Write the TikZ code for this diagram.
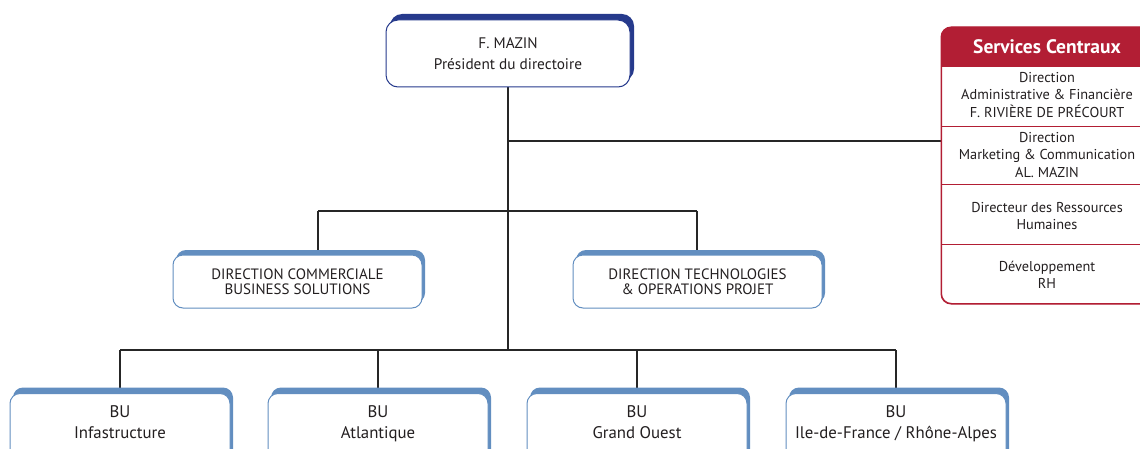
\documentclass[tikz,border=0pt]{standalone}
\usepackage{fontspec}
\setmainfont{PT Sans}
\usetikzlibrary{shadows,backgrounds}
\definecolor{navy}{RGB}{38,58,140}
\definecolor{steel}{RGB}{98,142,192}
\definecolor{scred}{RGB}{178,30,52}
\definecolor{txt}{RGB}{35,31,32}
\begin{document}
\begin{tikzpicture}[x=1pt,y=-1pt,
  conn/.style={draw=black!85, line width=1.2pt},
  box/.style={draw, fill=white, align=center, text=txt, line width=1pt},
  topbox/.style={box, draw=navy, minimum width=244pt, minimum height=67pt, rounded corners=12pt,
    general shadow={fill=navy, shadow xshift=4pt, shadow yshift=6pt},
    font=\fontsize{15.3}{21}\selectfont},
  midbox/.style={box, draw=steel, minimum width=249pt, minimum height=53pt, rounded corners=10pt,
    general shadow={fill=steel, shadow xshift=3pt, shadow yshift=5pt},
    font=\fontsize{15}{15}\selectfont},
  bubox/.style={box, draw=steel, minimum width=220pt, rounded corners=10pt, anchor=north,
    inner ysep=12pt, text depth=50pt,
    general shadow={fill=steel, shadow xshift=3pt, shadow yshift=6pt},
    font=\fontsize{16.8}{21}\selectfont},
  sctext/.style={align=center, text=txt, font=\fontsize{14.3}{17.5}\selectfont},
]
\useasboundingbox (0,0) rectangle (1140,449);
\clip (0,0) rectangle (1140,449);

% nodes
\node[topbox] (top) at (508,53.5) {F. MAZIN\\Président du directoire};
\node[midbox] (dcb) at (297.5,281.5) {DIRECTION COMMERCIALE\\BUSINESS SOLUTIONS};
\node[midbox] (dto) at (697.5,281.5) {DIRECTION TECHNOLOGIES\\\& OPERATIONS PROJET};
\node[bubox] (bu1) at (120,393) {BU\\Infastructure};
\node[bubox] (bu2) at (378,393) {BU\\Atlantique};
\node[bubox] (bu3) at (637,393) {BU\\Grand Ouest};
\node[bubox] (bu4) at (896,393) {BU\\Ile-de-France / Rhône-Alpes};

% services centraux
\node[draw=scred, fill=white, line width=1pt, rounded corners=10pt, minimum width=211pt,
  minimum height=276pt, anchor=north west, inner sep=0pt] (sc) at (941,27) {};
\begin{scope}
  \clip[rounded corners=10pt] (sc.north west) rectangle (sc.south east);
  \fill[scred] (sc.north west) rectangle (sc.east |- 0,67);
\end{scope}
\draw[scred, line width=1pt, rounded corners=10pt] (sc.north west) rectangle (sc.south east);
\node[text=white, font=\bfseries\fontsize{19.5}{22}\selectfont] (sch) at (1047,47) {Services Centraux};
\draw[scred, line width=1pt] (sc.west |- 0,127) -- (sc.east |- 0,127);
\draw[scred, line width=1pt] (sc.west |- 0,185) -- (sc.east |- 0,185);
\draw[scred, line width=1pt] (sc.west |- 0,244) -- (sc.east |- 0,244);
\node[sctext] (sc1) at (1047,95) {Direction\\Administrative \& Financière\\F. RIVIÈRE DE PRÉCOURT};
\node[sctext] (sc2) at (1047,155) {Direction\\Marketing \& Communication\\AL. MAZIN};
\node[sctext] (sc3) at (1047,216) {Directeur des Ressources\\Humaines};
\node[sctext] (sc4) at (1047,275) {Développement\\RH};

% connectors
\coordinate (j1) at (508,141);
\coordinate (m0) at (508,211);
\coordinate (m1) at (318,211);
\coordinate (m2) at (697,211);
\coordinate (b0) at (508,350);
\begin{scope}[on background layer]
  \draw[conn] (top.south) -- (b0);
  \draw[conn] (j1) -- (j1 -| sc.west);
  \draw[conn] (m1) -- (m2);
  \draw[conn] (m1) -- (m1 |- dcb.north);
  \draw[conn] (m2) -- (m2 |- dto.north);
  \draw[conn] (b0 -| bu1.north) -- (b0 -| bu4.north);
  \draw[conn] (b0 -| bu1.north) -- (bu1.north);
  \draw[conn] (b0 -| bu2.north) -- (bu2.north);
  \draw[conn] (b0 -| bu3.north) -- (bu3.north);
  \draw[conn] (b0 -| bu4.north) -- (bu4.north);
\end{scope}
\end{tikzpicture}
\end{document}
